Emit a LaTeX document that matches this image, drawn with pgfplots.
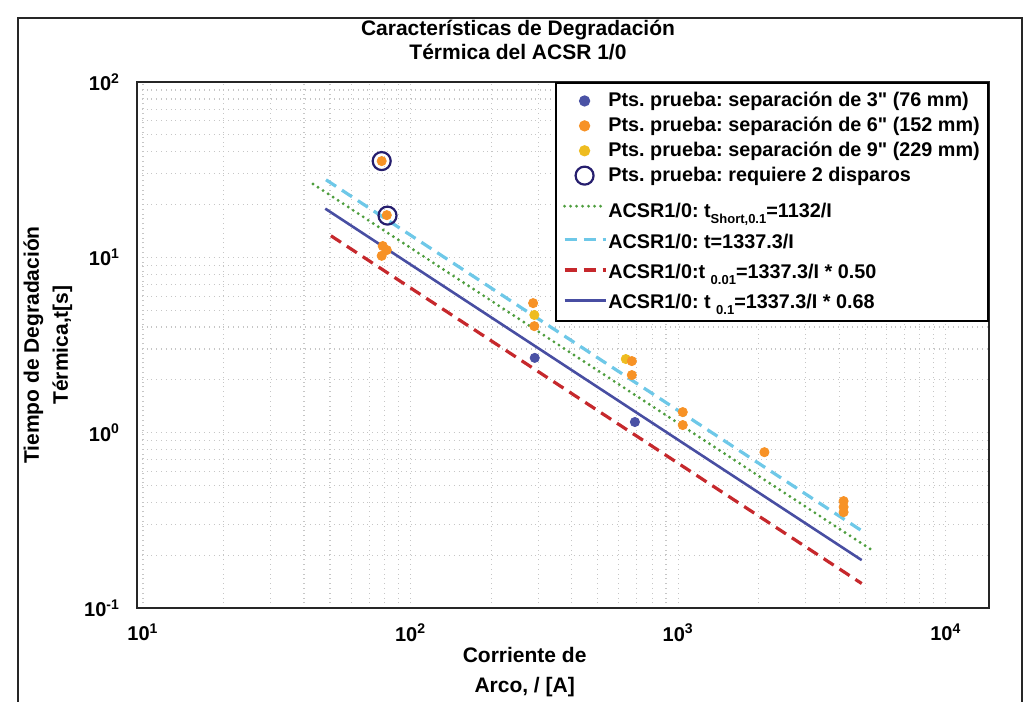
\documentclass[border=0pt]{standalone}
\usepackage{fontspec}
\setmainfont{Liberation Sans}
\usepackage{pgfplots}
\pgfplotsset{compat=1.18}
\frenchspacing
\definecolor{ptblue}{RGB}{74,82,165}
\definecolor{ptorange}{RGB}{247,146,38}
\definecolor{ptyellow}{RGB}{238,188,32}
\definecolor{ringcol}{RGB}{38,30,110}
\definecolor{lgreen}{RGB}{78,158,62}
\definecolor{lcyan}{RGB}{110,200,232}
\definecolor{lred}{RGB}{198,40,44}
\definecolor{lblue}{RGB}{72,78,162}
\pgfplotsset{
  dotlegend/.style={legend image code/.code={\draw[##1] plot coordinates {(10pt,0pt)};}},
  linelegend/.style={legend image code/.code={\draw[##1] (0pt,0pt) -- (20.5pt,0pt);}},
}
\newcommand{\sub}[1]{\raisebox{-2.8pt}{\fontsize{6.5}{7}\selectfont #1}}
\newcommand{\fstrut}{\rule[-4.5pt]{0pt}{17.5pt}}
\newcommand{\lstrut}{\rule[-4.5pt]{0pt}{14.5pt}}

\begin{document}
\begin{tikzpicture}[x=1pt,y=1pt]
\useasboundingbox (-68.5,-47) rectangle (443.5,304);
\draw[line width=1.2pt, black!85] (-59.5,295) rectangle (442.5,-60);
\node[align=center, font=\bfseries\fontsize{10.5}{12}\selectfont] at (190.5,284)
  {Características de Degradación\\Térmica del ACSR 1/0};
\begin{axis}[
    at={(0,0)}, anchor=south west,
    scale only axis, width=426pt, height=263pt,
    xmode=log, ymode=log,
    xmin=9.5, xmax=14500, ymin=0.1, ymax=100,
    xtick={10,100,1000,10000},
    xticklabels={10\textsuperscript{1},10\textsuperscript{2},10\textsuperscript{3},10\textsuperscript{4}},
    ytick={0.1,1,10,100},
    yticklabels={10\textsuperscript{-1},10\textsuperscript{0},10\textsuperscript{1},10\textsuperscript{2}},
    major tick length=0pt, minor tick length=0pt,
    grid=both,
    major grid style={dotted, gray!45, line width=0.6pt},
    minor grid style={dotted, gray!45, line width=0.6pt},
    axis line style={line width=1pt, black!85},
    tick label style={font=\bfseries\fontsize{10}{11}\selectfont},
    xticklabel style={yshift=-4.5pt},
    yticklabel style={xshift=-5pt},
    xlabel={Corriente de\\Arco, / [A]},
    xlabel style={at={(axis description cs:0.455,0)}, anchor=north, yshift=-16pt,
      align=center, font=\bfseries\fontsize{10.5}{15}\selectfont},
    ylabel={Tiempo de Degradación\\Térmica,t[s]},
    ylabel style={at={(axis description cs:-0.1045,0.5)}, anchor=center,
      align=center, font=\bfseries\fontsize{10.5}{14.5}\selectfont},
    legend style={at={(1,1)}, anchor=north east, draw=black, line width=1pt,
      fill=white, font=\bfseries\fontsize{9.9}{11}\selectfont,
      nodes={inner sep=0.6pt},
      cells={anchor=west}, inner xsep=3.5pt, inner ysep=4pt, row sep=2.5pt},
  ]
  % legend entries
  \addlegendimage{dotlegend, only marks, mark=*, mark size=2.3pt, ptblue}
  \addlegendentry{Pts. prueba: separación de 3\textquotedbl{} (76 mm)}
  \addlegendimage{dotlegend, only marks, mark=*, mark size=2.3pt, ptorange}
  \addlegendentry{Pts. prueba: separación de 6\textquotedbl{} (152 mm)}
  \addlegendimage{dotlegend, only marks, mark=*, mark size=2.3pt, ptyellow}
  \addlegendentry{Pts. prueba: separación de 9\textquotedbl{} (229 mm)}
  \addlegendimage{dotlegend, only marks, mark=o, mark size=4.5pt, line width=1.1pt, ringcol}
  \addlegendentry{Pts. prueba: requiere 2 disparos}
  \addlegendimage{linelegend, lgreen, line width=1.6pt, dash pattern=on 0pt off 3pt, line cap=round}
  \addlegendentry{\fstrut ACSR1/0: t\sub{Short,0.1}=1132/I}
  \addlegendimage{linelegend, lcyan, line width=1.6pt, dash pattern=on 6pt off 3.5pt}
  \addlegendentry{\lstrut ACSR1/0: t=1337.3/I}
  \addlegendimage{linelegend, lred, line width=1.6pt, dash pattern=on 6pt off 3.5pt}
  \addlegendentry{\lstrut ACSR1/0:t \sub{0.01}=1337.3/I * 0.50}
  \addlegendimage{linelegend, lblue, line width=1.3pt}
  \addlegendentry{\lstrut ACSR1/0: t \sub{0.1}=1337.3/I * 0.68}

  % fitted lines
  \addplot[forget plot, lgreen, line width=1.6pt, dash pattern=on 0pt off 3pt, line cap=round]
    coordinates {(43.2,26.2) (5330,0.2124)};
  \addplot[forget plot, lcyan, line width=1.6pt, dash pattern=on 6pt off 3.5pt]
    coordinates {(48.3,27.69) (4850,0.2757)};
  \addplot[forget plot, lred, line width=1.6pt, dash pattern=on 6pt off 3.5pt]
    coordinates {(50.4,13.27) (4850,0.1379)};
  \addplot[forget plot, lblue, line width=1.3pt]
    coordinates {(48,18.95) (4850,0.1875)};

  % test points
  \addplot[forget plot, only marks, mark=*, mark size=2.3pt, ptyellow]
    coordinates {(290,4.69) (637,2.63)};
  \addplot[forget plot, only marks, mark=*, mark size=2.3pt, ptorange]
    coordinates {(78,35.4) (81.5,17.4) (78.7,11.6) (81.5,11.0) (78,10.2)
      (287,5.48) (290,4.05) (671,2.56) (671,2.13) (1040,1.31) (1040,1.105)
      (2100,0.774) (4150,0.407) (4150,0.377) (4150,0.352)};
  \addplot[forget plot, only marks, mark=*, mark size=2.3pt, ptblue]
    coordinates {(291,2.67) (689,1.15)};
  \addplot[forget plot, only marks, mark=o, mark size=4.5pt, line width=1.1pt, ringcol]
    coordinates {(78,35.4) (82,17.3)};
\end{axis}
\end{tikzpicture}
\end{document}
